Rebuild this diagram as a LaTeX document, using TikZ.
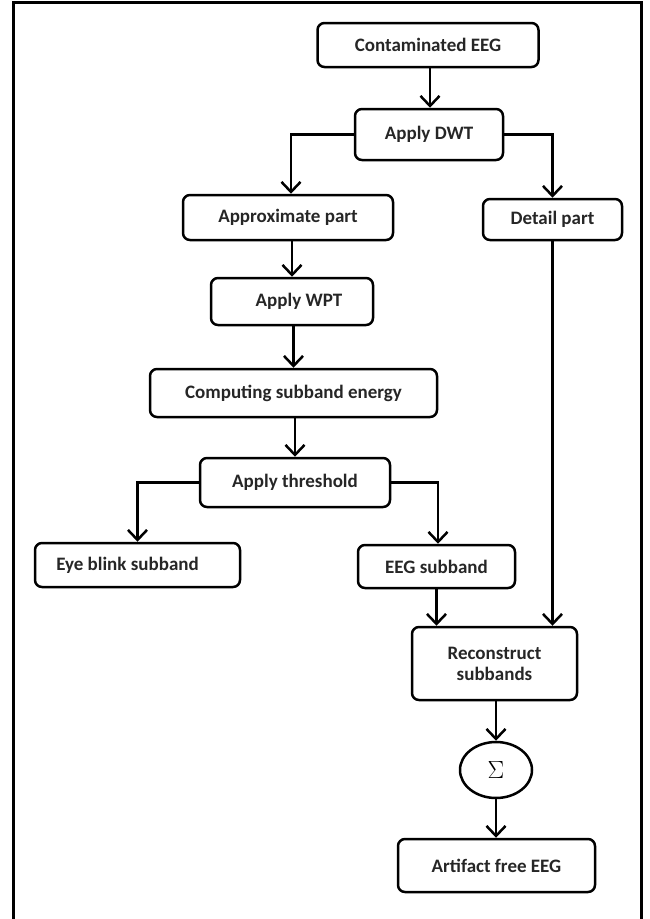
\documentclass[tikz,border=0pt]{standalone}
\usepackage{fontspec}
\setmainfont{Carlito}
\usetikzlibrary{arrows.meta,shapes.geometric}
\tikzset{
  box/.style 2 args={draw=black, line width=2.5pt, rounded corners=7pt, inner sep=0pt,
    minimum width=#1, minimum height=#2, align=center, text=black!85,
    font=\fontsize{19}{21}\selectfont\bfseries},
  arr/.style={line width=2.5pt, -{Straight Barb[length=10pt,width=19pt]}},
  frame/.style={line width=3pt, draw=black}
}
\begin{document}
\begin{tikzpicture}[x=1pt,y=-1pt]
\useasboundingbox (0,0) rectangle (649,919);
\draw[frame] (13,921) -- (13,2) -- (641,2) -- (641,921);

\node[box={221pt}{44pt}] (ce) at (428,45) {Contaminated EEG};
\node[box={148pt}{51pt}] (dwt) at (429,134.5) {Apply DWT};
\node[box={210pt}{45pt}] (ap) at (288,217.5) {Approximate part};
\node[box={139pt}{41pt}] (dp) at (552.5,219.5) {Detail part};
\node[box={162pt}{47pt}] (wpt) at (292,301.5) {\hspace{14pt}Apply WPT};
\node[box={287pt}{48pt}] (cse) at (293.5,393) {Computing subband energy};
\node[box={190pt}{49pt}] (thr) at (295,482.5) {Apply threshold};
\node[box={205pt}{44pt}] (eye) at (137.5,565) {Eye blink subband\hspace{20pt}};
\node[box={157pt}{43pt}] (eegs) at (436.5,566.5) {EEG subband};
\node[box={165pt}{73pt}] (rec) at (494.5,663.5) {Reconstruct\\subbands};
\node[draw=black, line width=2.5pt, ellipse, inner sep=0pt, minimum width=72pt, minimum height=56pt,
  font=\fontsize{26}{28}\selectfont] (sig) at (496,770) {$\Sigma$};
\node[box={197pt}{53pt}] (af) at (496.5,865.5) {Artifact free EEG};

\draw[arr] ([xshift=2pt]ce.south) -- ([xshift=2pt]ce.south |- dwt.north);
\draw[arr] (dwt.west) -| ([xshift=3pt]ap.north);
\draw[arr] (dwt.east) -| (dp.north);
\draw[arr] (wpt.north |- ap.south) -- (wpt.north);
\draw[arr] (cse.north |- wpt.south) -- (cse.north);
\draw[arr] (thr.north |- cse.south) -- (thr.north);
\draw[arr] (thr.west) -| (eye.north);
\draw[arr] (thr.east) -| ([xshift=1.5pt]eegs.north);
\draw[arr] (dp.south) -- (dp.south |- rec.north);
\draw[arr] (eegs.south) -- (eegs.south |- rec.north);
\draw[arr] (sig.north |- rec.south) -- (sig.north);
\draw[arr] (sig.south) -- (sig.south |- af.north);
\end{tikzpicture}
\end{document}
